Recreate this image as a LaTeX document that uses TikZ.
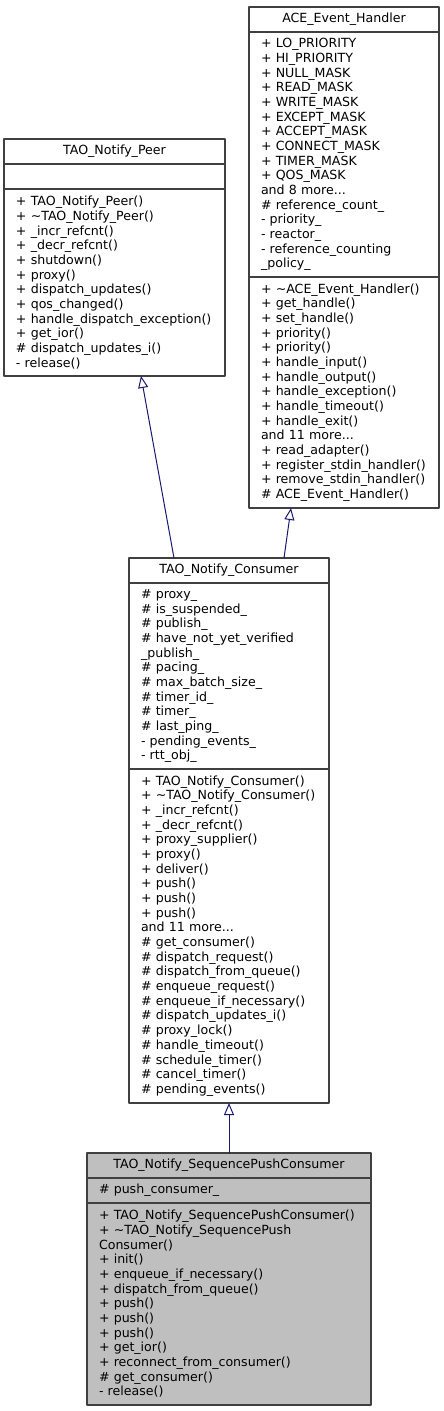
\documentclass[tikz,border=0pt]{standalone}
\usepackage{fontspec}
\setmainfont{DejaVu Sans}
\usetikzlibrary{arrows.meta}
\usetikzlibrary{positioning}
\definecolor{edgeblue}{RGB}{25,25,112}
\definecolor{boxline}{RGB}{64,64,64}
\definecolor{curfill}{RGB}{191,191,191}
\tikzset{
  part/.style={draw=boxline,line width=1.2pt,outer sep=0pt,inner xsep=12pt,inner ysep=0pt,
    align=left,font=\fontsize{12.6}{14.67}\selectfont,
    execute at begin node={\hyphenpenalty=10000\exhyphenpenalty=10000}},
  titlepart/.style={part,align=center,minimum height=25pt},
  acebox/.style={minimum width=190pt,text width=166pt},
  peerbox/.style={minimum width=221pt,text width=197pt},
  conbox/.style={minimum width=200pt,text width=176pt},
  seqbox/.style={minimum width=284pt,text width=260pt,fill=curfill},
  inherit/.style={draw=edgeblue,line width=1pt,-{Triangle[open,length=12pt,width=10pt]}}
}
\begin{document}
\begin{tikzpicture}[line cap=round,line join=round,x=1pt,y=-1pt]
\useasboundingbox (0,0) rectangle (444,1411);
% ACE_Event_Handler
\node[titlepart,acebox,anchor=north west] (acetitle) at (249,7) {ACE\_Event\_Handler};
\node[part,acebox,minimum height=245pt,below=0pt of acetitle] (aceattr) {+~LO\_PRIORITY\\+~HI\_PRIORITY\\+~NULL\_MASK\\+~READ\_MASK\\+~WRITE\_MASK\\+~EXCEPT\_MASK\\+~ACCEPT\_MASK\\+~CONNECT\_MASK\\+~TIMER\_MASK\\+~QOS\_MASK\\and~8~more...\\\#~reference\_count\_\\-~priority\_\\-~reactor\_\\-~reference\_counting\\\_policy\_};
\node[part,acebox,minimum height=231pt,below=0pt of aceattr] (aceops) {+~\textasciitilde ACE\_Event\_Handler()\\+~get\_handle()\\+~set\_handle()\\+~priority()\\+~priority()\\+~handle\_input()\\+~handle\_output()\\+~handle\_exception()\\+~handle\_timeout()\\+~handle\_exit()\\and~11~more...\\+~read\_adapter()\\+~register\_stdin\_handler()\\+~remove\_stdin\_handler()\\\#~ACE\_Event\_Handler()};
% TAO_Notify_Peer
\node[titlepart,peerbox,anchor=north west] (peertitle) at (4,139) {TAO\_Notify\_Peer};
\node[part,peerbox,minimum height=25pt,below=0pt of peertitle] (peerattr) {};
\node[part,peerbox,minimum height=187pt,below=0pt of peerattr] (peerops) {+~TAO\_Notify\_Peer()\\+~\textasciitilde TAO\_Notify\_Peer()\\+~\_incr\_refcnt()\\+~\_decr\_refcnt()\\+~shutdown()\\+~proxy()\\+~dispatch\_updates()\\+~qos\_changed()\\+~handle\_dispatch\_exception()\\+~get\_ior()\\\#~dispatch\_updates\_i()\\-~release()};
% TAO_Notify_Consumer
\node[titlepart,conbox,anchor=north west] (contitle) at (129,558) {TAO\_Notify\_Consumer};
\node[part,conbox,minimum height=186pt,below=0pt of contitle] (conattr) {\#~proxy\_\\\#~is\_suspended\_\\\#~publish\_\\\#~have\_not\_yet\_verified\\\_publish\_\\\#~pacing\_\\\#~max\_batch\_size\_\\\#~timer\_id\_\\\#~timer\_\\\#~last\_ping\_\\-~pending\_events\_\\-~rtt\_obj\_};
\node[part,conbox,minimum height=334pt,below=0pt of conattr] (conops) {+~TAO\_Notify\_Consumer()\\+~\textasciitilde TAO\_Notify\_Consumer()\\+~\_incr\_refcnt()\\+~\_decr\_refcnt()\\+~proxy\_supplier()\\+~proxy()\\+~deliver()\\+~push()\\+~push()\\+~push()\\and~11~more...\\\#~get\_consumer()\\\#~dispatch\_request()\\\#~dispatch\_from\_queue()\\\#~enqueue\_request()\\\#~enqueue\_if\_necessary()\\\#~dispatch\_updates\_i()\\\#~proxy\_lock()\\\#~handle\_timeout()\\\#~schedule\_timer()\\\#~cancel\_timer()\\\#~pending\_events()};
% TAO_Notify_SequencePushConsumer
\node[titlepart,seqbox,anchor=north west] (seqtitle) at (87,1153) {TAO\_Notify\_SequencePushConsumer};
\node[part,seqbox,minimum height=25pt,below=0pt of seqtitle] (seqattr) {\#~push\_consumer\_};
\node[part,seqbox,minimum height=202pt,below=0pt of seqattr] (seqops) {+~TAO\_Notify\_SequencePushConsumer()\\+~\textasciitilde TAO\_Notify\_SequencePush\\Consumer()\\+~init()\\+~enqueue\_if\_necessary()\\+~dispatch\_from\_queue()\\+~push()\\+~push()\\+~push()\\+~get\_ior()\\+~reconnect\_from\_consumer()\\\#~get\_consumer()\\-~release()};
% inheritance
\draw[inherit] ([xshift=-55pt]contitle.north) -- ([xshift=26.5pt]peerops.south);
\draw[inherit] ([xshift=55pt]contitle.north) -- ([xshift=-53pt]aceops.south);
\draw[inherit] (seqtitle.north) -- (conops.south);
\end{tikzpicture}
\end{document}
